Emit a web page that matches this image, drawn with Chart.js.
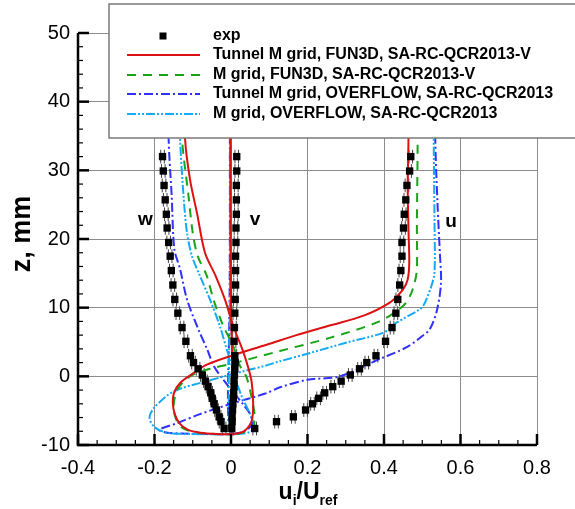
<!DOCTYPE html>
<html>
<head>
<meta charset="utf-8">
<script src="https://cdn.jsdelivr.net/npm/chart.js@4.4.1/dist/chart.umd.min.js"></script>
<style>
  html, body { margin: 0; padding: 0; background: #fff; }
  #wrap { width: 575px; height: 509px; }
</style>
</head>
<body>
<div id="wrap"><canvas id="chart" width="575" height="509"></canvas></div>
<script>
// axis ticks
const xTicks = [-0.4, -0.2, 0, 0.2, 0.4, 0.6, 0.8];
const yTicks = [-10, 0, 10, 20, 30, 40, 50];

// experiment, z in mm
const zExp = [32.0, 29.9, 27.8, 25.7, 23.6, 21.6, 19.5, 17.5, 15.4, 13.3, 11.2, 9.2, 7.1, 5.1,
  3.0, 2.0, 1.1, 0.2, -0.7, -1.5, -2.4, -3.2, -4.0, -4.9, -5.9, -6.6, -7.6];
const uExp = [0.470, 0.467, 0.460, 0.457, 0.453, 0.451, 0.447, 0.447, 0.444, 0.441, 0.436, 0.431, 0.421, 0.404,
  0.379, 0.355, 0.336, 0.312, 0.288, 0.266, 0.245, 0.229, 0.213, 0.195, 0.163, 0.119, 0.062];
const vExp = [0.015, 0.015, 0.014, 0.014, 0.014, 0.013, 0.013, 0.012, 0.012, 0.012, 0.011, 0.010, 0.009, 0.008,
  0.010, 0.011, 0.010, 0.009, 0.008, 0.008, 0.007, 0.006, 0.005, 0.004, 0.003, 0.003, 0.002];
const wExp = [-0.179, -0.177, -0.175, -0.172, -0.169, -0.167, -0.163, -0.159, -0.156, -0.152, -0.147, -0.139, -0.128, -0.118,
  -0.106, -0.098, -0.086, -0.075, -0.067, -0.060, -0.053, -0.049, -0.044, -0.038, -0.031, -0.026, -0.018];
const zErr = 1.0;

// CFD profiles as [value, z]
// Tunnel M grid, FUN3D, SA-RC-QCR2013-V
const tunFunU = [[0.464, 50], [0.464, 34.7], [0.462, 27.7], [0.464, 21.4], [0.466, 16.6], [0.462, 14.1], [0.449, 12.6],
  [0.414, 10.7], [0.345, 8.8], [0.258, 7.4], [0.171, 6.0], [0.093, 4.6], [0.006, 3.1], [-0.063, 1.7],
  [-0.100, 0.4], [-0.132, -0.9], [-0.149, -2.4], [-0.152, -3.9], [-0.147, -5.5], [-0.134, -6.9], [-0.112, -7.8],
  [-0.080, -8.2], [-0.037, -8.4], [0, -8.45]];
const tunFunV = [[-0.001, 50], [-0.001, 20], [0.000, 10], [0.003, 3], [0.006, -2], [0.006, -6], [0.003, -8], [0, -8.45]];
const tunFunW = [[-0.130, 50], [-0.120, 34.5], [-0.107, 28.6], [-0.089, 23.8], [-0.068, 18.0], [-0.040, 14.6],
  [-0.016, 11.2], [0.006, 7.3], [0.030, 3.9], [0.045, 1.3], [0.054, -0.8], [0.058, -4.0], [0.054, -6.5],
  [0.034, -8.0], [0.010, -8.4], [0, -8.45]];

// M grid, FUN3D, SA-RC-QCR2013-V
const mFunU = [[0.488, 50], [0.488, 34.7], [0.486, 22.0], [0.486, 15.6], [0.480, 13.6], [0.468, 11.7], [0.449, 10.2],
  [0.388, 8.0], [0.258, 5.6], [0.128, 3.7], [0.006, 1.9], [-0.055, 1.1], [-0.107, 0.0], [-0.140, -1.9],
  [-0.150, -4.3], [-0.144, -6.2], [-0.125, -7.6], [-0.085, -8.2], [-0.040, -8.4], [0, -8.45]];
const mFunV = [[-0.001, 50], [-0.001, 20], [0.001, 10], [0.004, 3], [0.006, -2], [0.005, -6], [0.002, -8], [0, -8.45]];
const mFunW = [[-0.140, 50], [-0.128, 34.5], [-0.111, 26.2], [-0.100, 20.9], [-0.087, 17.5], [-0.063, 14.6],
  [-0.046, 11.2], [-0.020, 7.3], [0.006, 4.4], [0.022, 1.7], [0.041, -0.2], [0.054, -3.1], [0.062, -6.0],
  [0.054, -7.7], [0.023, -8.3], [0, -8.45]];

// Tunnel M grid, OVERFLOW, SA-RC-QCR2013
const tunOvfU = [[0.534, 50], [0.534, 34.7], [0.540, 25.0], [0.546, 18.0], [0.549, 13.6], [0.538, 9.5], [0.520, 6.9],
  [0.501, 5.9], [0.458, 4.2], [0.388, 2.5], [0.284, 0.0], [0.200, -0.5], [0.128, -1.6], [0.090, -2.5], [0.000, -4.0],
  [-0.081, -5.5], [-0.140, -6.8], [-0.188, -7.8], [-0.160, -8.25], [-0.060, -8.4], [0, -8.45]];
const tunOvfV = [[-0.003, 50], [-0.003, 20], [-0.004, 10], [-0.006, 3], [-0.008, -2], [-0.007, -6], [-0.003, -8], [0, -8.45]];
const tunOvfW = [[-0.165, 50], [-0.163, 34.5], [-0.155, 26.2], [-0.148, 18.5], [-0.133, 15.6], [-0.115, 11.2],
  [-0.085, 6.8], [-0.062, 3.9], [-0.045, 1.5], [-0.020, -0.5], [-0.003, -1.7], [0.032, -4.1], [0.050, -5.5],
  [0.055, -7.0], [0.035, -8.0], [0, -8.45]];

// M grid, OVERFLOW, SA-RC-QCR2013
const mOvfU = [[0.530, 50], [0.530, 34.7], [0.532, 22.8], [0.532, 15.1], [0.523, 13.0], [0.505, 10.5], [0.492, 9.7],
  [0.432, 7.8], [0.400, 6.4], [0.301, 4.9], [0.200, 3.3], [0.128, 2.2], [0.093, 1.6], [0.023, 0.6], [-0.063, -0.7],
  [-0.150, -2.2], [-0.200, -4.5], [-0.213, -6.0], [-0.200, -7.4], [-0.168, -8.2], [-0.107, -8.4], [0, -8.45]];
const mOvfV = [[-0.002, 50], [-0.002, 20], [-0.003, 10], [-0.005, 3], [-0.006, -2], [-0.005, -6], [-0.002, -8], [0, -8.45]];
const mOvfW = [[-0.140, 50], [-0.133, 34.5], [-0.124, 26.2], [-0.115, 20.9], [-0.102, 17.5], [-0.081, 14.6],
  [-0.055, 11.2], [-0.029, 7.3], [-0.011, 3.9], [0.005, 1.0], [0.025, -2.5], [0.050, -5.5], [0.062, -7.2],
  [0.050, -8.1], [0.020, -8.4], [0, -8.45]];

const legendLabels = ['exp', 'Tunnel M grid, FUN3D, SA-RC-QCR2013-V', 'M grid, FUN3D, SA-RC-QCR2013-V',
  'Tunnel M grid, OVERFLOW, SA-RC-QCR2013', 'M grid, OVERFLOW, SA-RC-QCR2013'];

const FONT = "'Liberation Sans', Arial, Helvetica, sans-serif";

const styles = [
  { color: '#dd1111', dash: [] },
  { color: '#16a516', dash: [9, 7] },
  { color: '#3030ff', dash: [9, 3, 2, 3] },
  { color: '#14aaf5', dash: [9, 2, 2, 2, 2, 2] }
];

const pts = arr => arr.map(p => ({ x: p[0], y: p[1] }));
const expPts = vals => vals.map((v, i) => ({ x: v, y: zExp[i] }));

function expSet(vals) {
  return {
    data: expPts(vals), showLine: false, pointStyle: 'rect', pointRadius: 5.2,
    backgroundColor: '#000', borderColor: '#000', borderWidth: 0
  };
}
function cfdSet(arr, s) {
  return {
    data: pts(arr), showLine: true, pointRadius: 0, borderColor: s.color, borderDash: s.dash,
    borderWidth: 2, tension: 0.3, fill: false
  };
}

const datasets = [
  expSet(uExp), expSet(vExp), expSet(wExp),
  cfdSet(tunFunU, styles[0]), cfdSet(tunFunV, styles[0]), cfdSet(tunFunW, styles[0]),
  cfdSet(mFunU, styles[1]), cfdSet(mFunV, styles[1]), cfdSet(mFunW, styles[1]),
  cfdSet(mOvfU, styles[3]), cfdSet(mOvfV, styles[3]), cfdSet(mOvfW, styles[3]),
  cfdSet(tunOvfU, styles[2]), cfdSet(tunOvfV, styles[2]), cfdSet(tunOvfW, styles[2])
];

const framePlugin = {
  id: 'frame',
  beforeDatasetsDraw(chart) {
    // error bars of the experiment
    const { ctx, chartArea: a, scales: { x, y } } = chart;
    ctx.save();
    ctx.beginPath();
    ctx.rect(a.left, a.top, a.right - a.left, a.bottom - a.top);
    ctx.clip();
    ctx.strokeStyle = '#444';
    ctx.lineWidth = 1;
    [uExp, vExp, wExp].forEach(vals => {
      vals.forEach((v, i) => {
        const px = x.getPixelForValue(v);
        const y1 = y.getPixelForValue(zExp[i] + zErr);
        const y2 = y.getPixelForValue(zExp[i] - zErr);
        [-1.8, 1.8].forEach(d => {
          ctx.beginPath();
          ctx.moveTo(px + d, y1);
          ctx.lineTo(px + d, y2);
          ctx.stroke();
        });
      });
    });
    ctx.restore();
  },
  afterDraw(chart) {
    const { ctx, chartArea: a, scales: { x, y } } = chart;
    ctx.save();

    // axes
    ctx.strokeStyle = '#000';
    ctx.lineWidth = 2.5;
    ctx.beginPath();
    ctx.moveTo(a.left, y.getPixelForValue(50));
    ctx.lineTo(a.left, a.bottom);
    ctx.lineTo(x.getPixelForValue(0.8), a.bottom);
    ctx.stroke();

    // ticks pointing inward
    for (let v = -10; v <= 50.001; v += 2) {
      const py = y.getPixelForValue(v);
      const major = Math.abs(v % 10) < 0.01;
      ctx.lineWidth = major ? 2.5 : 1.2;
      ctx.beginPath();
      ctx.moveTo(a.left, py);
      ctx.lineTo(a.left + (major ? 11 : 5), py);
      ctx.stroke();
    }
    for (let k = 0; k <= 24; k++) {
      const v = -0.4 + k * 0.05;
      const px = x.getPixelForValue(v);
      const major = k % 4 === 0;
      ctx.lineWidth = major ? 2.5 : 1.2;
      ctx.beginPath();
      ctx.moveTo(px, a.bottom);
      ctx.lineTo(px, a.bottom - (major ? 11 : 5));
      ctx.stroke();
    }

    // axis titles
    ctx.fillStyle = '#000';
    ctx.font = 'bold 27px ' + FONT;
    ctx.textAlign = 'center';
    ctx.textBaseline = 'middle';
    ctx.save();
    ctx.translate(23, 234);
    ctx.rotate(-Math.PI / 2);
    ctx.fillText('z, mm', 0, 0);
    ctx.restore();

    const parts = [['u', 23, 0], ['i', 14, 6], ['/U', 23, 0], ['ref', 14, 6]];
    ctx.textAlign = 'left';
    ctx.textBaseline = 'alphabetic';
    let total = 0;
    parts.forEach(p => { ctx.font = 'bold ' + p[1] + 'px ' + FONT; total += ctx.measureText(p[0]).width; });
    let cx = 308 - total / 2;
    parts.forEach(p => {
      ctx.font = 'bold ' + p[1] + 'px ' + FONT;
      ctx.fillText(p[0], cx, 499 + p[2]);
      cx += ctx.measureText(p[0]).width;
    });

    // component labels
    ctx.font = 'bold 19px ' + FONT;
    ctx.textAlign = 'center';
    ctx.textBaseline = 'middle';
    ctx.fillText('w', x.getPixelForValue(-0.224), y.getPixelForValue(22.8));
    ctx.fillText('v', x.getPixelForValue(0.063), y.getPixelForValue(22.8));
    ctx.fillText('u', x.getPixelForValue(0.575), y.getPixelForValue(22.5));

    // legend box
    ctx.fillStyle = '#fff';
    ctx.fillRect(109, 4, 480, 134);
    ctx.strokeStyle = '#7a7a7a';
    ctx.lineWidth = 1.5;
    ctx.strokeRect(109, 4, 480, 134);

    const rowY = [36, 55, 75, 94, 114];
    ctx.font = 'bold 16px ' + FONT;
    ctx.textAlign = 'left';
    ctx.textBaseline = 'middle';
    legendLabels.forEach((lab, i) => {
      const ry = rowY[i];
      if (i === 0) {
        ctx.fillStyle = '#000';
        ctx.fillRect(163 - 3.5, ry - 3.5, 7, 7);
      } else {
        const s = styles[i - 1];
        ctx.strokeStyle = s.color;
        ctx.lineWidth = 2;
        ctx.setLineDash(s.dash);
        ctx.beginPath();
        ctx.moveTo(127, ry);
        ctx.lineTo(200, ry);
        ctx.stroke();
        ctx.setLineDash([]);
      }
      ctx.fillStyle = '#000';
      ctx.fillText(lab, 213, ry);
    });

    ctx.restore();
  }
};

new Chart(document.getElementById('chart'), {
  type: 'scatter',
  data: { datasets },
  options: {
    responsive: false,
    animation: false,
    layout: { padding: { left: 0, right: 38, top: 33, bottom: 0 } },
    plugins: { legend: { display: false }, tooltip: { enabled: false } },
    scales: {
      x: {
        type: 'linear', min: -0.4, max: 0.8,
        afterFit(scale) { scale.height = 64; },
        afterBuildTicks(scale) { scale.ticks = xTicks.map(v => ({ value: v })); },
        border: { display: false },
        grid: { color: '#8c8c8c', lineWidth: 1, drawTicks: false },
        ticks: {
          padding: 11, color: '#000', font: { family: FONT, size: 20 },
          callback: v => String(Number(v.toFixed(1)))
        }
      },
      y: {
        type: 'linear', min: -10, max: 50,
        afterFit(scale) { scale.width = 78; },
        afterBuildTicks(scale) { scale.ticks = yTicks.map(v => ({ value: v })); },
        border: { display: false },
        grid: { color: '#8c8c8c', lineWidth: 1, drawTicks: false },
        ticks: { padding: 8, color: '#000', font: { family: FONT, size: 20 } }
      }
    }
  },
  plugins: [framePlugin]
});
</script>
</body>
</html>
